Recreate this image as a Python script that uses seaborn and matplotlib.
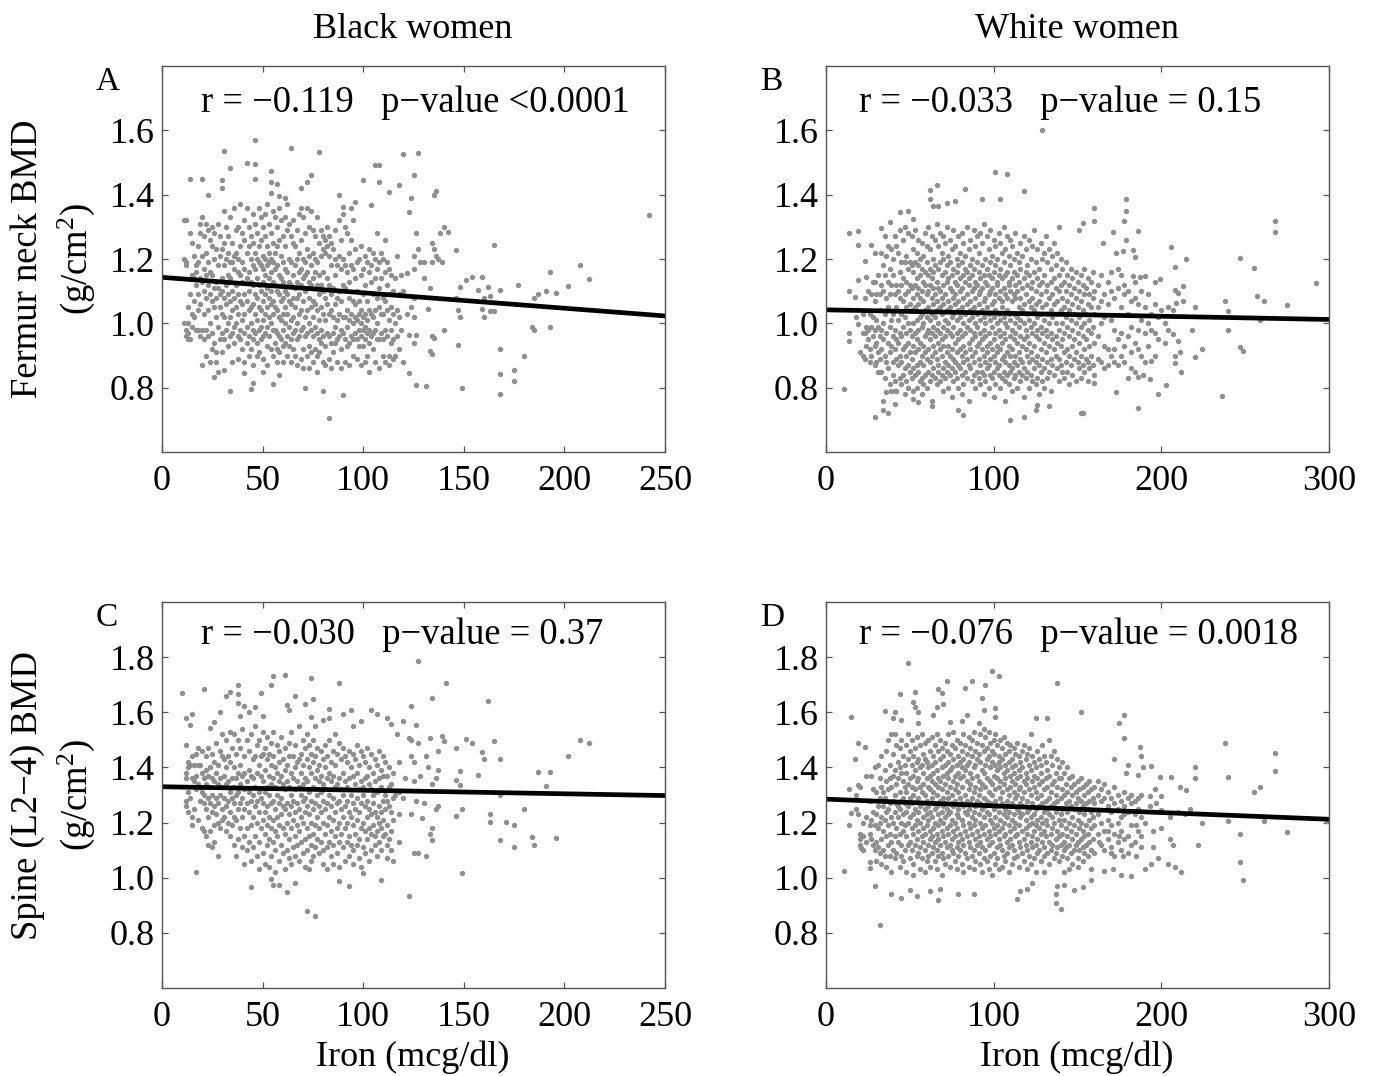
import matplotlib
matplotlib.use("Agg")
import matplotlib.pyplot as plt
import pandas as pd
import seaborn as sns

sns.set_style("white")
plt.rcParams['font.family'] = ['Liberation Serif', 'DejaVu Sans']
plt.rcParams['text.color'] = 'black'
plt.rcParams['mathtext.fontset'] = 'custom'
plt.rcParams['mathtext.rm'] = 'Liberation Serif'
plt.rcParams['mathtext.default'] = 'rm'

# Isolated points read one by one: (iron, BMD)
a_sparse = [(14,1.45),(20,1.45),(23,1.40),(31,1.537),(30,1.447),(30,1.42),(34,1.484),(42,1.50),(46,1.569),(46,1.496),(46,1.45),(54,1.474),(54,1.438),(57,1.433),(54,1.406),(58,1.397),(61,1.389),(64,1.544),(78,1.532),(74,1.462),(72,1.44),(69,1.42),(88,1.40),(100,1.446),(106,1.492),(108,1.492),(108,1.44),(113,1.407),(118,1.43),(120,1.525),(127,1.53),(125,1.462),(124,1.39),(123,1.346),(135,1.40),(136,1.41),(104,1.367),(96,1.378),(94,1.36),(90,1.363),(242,1.338),(165,1.245),(146,1.228),(208,1.18),(193,1.16),(212,1.137),(202,1.116),(196,1.094),(191,1.10),(187,1.09),(185,1.078),(177,1.12),(168,1.105),(162,1.114),(157,1.105),(159,1.143),(154,1.143),(151,1.136),(148,1.114),(146,1.08),(163,1.086),(160,1.079),(159,1.045),(160,1.02),(163,1.037),(165,1.037),(148,1.02),(147,1.04),(184,0.99),(185,0.98),(193,0.99),(140,0.98),(147,0.934),(168,0.92),(180,0.90),(168,0.843),(175,0.855),(175,0.82),(168,0.78),(149,0.80),(131,0.806),(126,0.808),(123,0.846),(83,0.707),(90,0.777),(80,0.79),(71,0.80),(55,0.81),(44,0.796),(45,0.815),(34,0.79),(26,0.834),(28,0.848),(31,0.856),(41,0.845),(50,0.85),(58,0.84),
 (140,1.30),(142,1.285),(138,1.28),(126,1.28),(127,1.23),(125,1.21),(134,1.25),(135,1.23),(136,1.21),(137,1.20),(139,1.19),(134,1.19),(130,1.19),(128,1.19),(125,1.17),(122,1.155),(130,1.14),(133,1.11),(125,1.08),(120,1.10),(124,1.05),(122,1.03),(125,1.02),(132,1.045),(134,0.96),(135,0.955),(133,0.915),(134,0.905),(123,0.965),(126,0.965),(125,0.94),(120,0.88)]
a_core = {
 11:[1.32,1.20,1.0],12:[1.32,1.19,1.18,0.98,0.96],13:[1.05,0.97,1.0,0.95],14:[1.28,1.09,0.95],15:[1.25,1.15,1.03,0.99],16:[1.21,1.14,1.07,1.02],17:[1.18,1.16,1.12,0.98],18:[1.24,1.19,1.09,1.04,0.98],19:[1.31,1.28,1.14,1.06,0.96],20:[1.33,1.21,1.13,0.98,0.87],21:[1.27,1.17,1.10,1.03,0.95],22:[1.31,1.22,1.15,1.08,0.98,0.90],23:[1.29,1.19,1.12,1.04,0.96],24:[1.26,1.16,1.09,1.0,0.88],25:[1.30,1.24,1.15,1.07,0.97,0.92],26:[1.28,1.20,1.11,1.05,0.94],27:[1.23,1.13,1.08,1.02,0.88,0.91],28:[1.31,1.18,1.11,0.99],29:[1.27,1.21,1.09,1.05,0.95],30:[1.23,1.14,1.10,1.03,0.97,0.91],
 31:[1.35,1.25,1.18,1.08,1.02,0.95],32:[1.30,1.20,1.12,1.06,0.98],33:[1.27,1.22,1.15,1.09,1.0,0.93],34:[1.33,1.19,1.14,1.07,1.02,0.96],35:[1.25,1.19,1.10,1.04,0.97,0.88],36:[1.36,1.21,1.17,1.08,0.99,0.94],37:[1.29,1.22,1.12,1.05,1.0],38:[1.30,1.20,1.16,1.09,1.03,0.96,0.89],39:[1.37,1.24,1.15,1.07,0.98,0.95],40:[1.28,1.19,1.13,1.06,1.01,0.92],41:[1.32,1.26,1.17,1.09,1.03,0.97,0.88],42:[1.36,1.22,1.14,1.07,0.99,0.94],43:[1.30,1.24,1.16,1.10,1.04,0.96,0.90],44:[1.27,1.20,1.13,1.05,1.0,0.92],45:[1.34,1.25,1.18,1.12,1.06,0.98,0.95,0.87],46:[1.31,1.22,1.17,1.09,1.03,0.97],47:[1.28,1.20,1.14,1.08,1.01,0.94,0.90],48:[1.36,1.24,1.19,1.12,1.05,0.98,0.91],49:[1.33,1.26,1.18,1.10,1.04,0.99,0.95],50:[1.30,1.21,1.17,1.13,1.07,1.01,0.96,0.89],
 51:[1.34,1.27,1.20,1.15,1.09,1.03,0.97],52:[1.37,1.24,1.18,1.11,1.05,0.99,0.93,0.87],53:[1.31,1.22,1.19,1.14,1.08,1.02,0.96],54:[1.28,1.20,1.16,1.10,1.06,1.0,0.92],55:[1.35,1.25,1.19,1.13,1.07,1.03,0.98,0.90],56:[1.33,1.22,1.17,1.12,1.05,0.98,0.94],57:[1.30,1.24,1.18,1.10,1.04,0.97,0.92,0.88],58:[1.36,1.26,1.15,1.09,1.02,0.96,0.91],59:[1.32,1.21,1.14,1.07,1.01,0.95],60:[1.27,1.19,1.13,1.08,1.03,0.98,0.93,0.88],
 61:[1.33,1.24,1.17,1.10,1.05,1.0,0.94],62:[1.37,1.29,1.16,1.09,1.03,0.96,0.90],63:[1.31,1.20,1.13,1.07,0.99,0.93],64:[1.27,1.19,1.12,1.06,1.01,0.95,0.88],65:[1.32,1.25,1.15,1.08,1.02,0.97,0.92],66:[1.24,1.18,1.11,1.05,0.98,0.90],67:[1.29,1.20,1.13,1.08,1.0,0.95,0.87],68:[1.34,1.22,1.16,1.09,1.03,0.96],69:[1.36,1.26,1.17,1.12,1.04,0.98,0.89],70:[1.33,1.20,1.14,1.07,0.99,0.92,0.86],
 71:[1.28,1.19,1.15,1.10,1.02,0.96],72:[1.36,1.23,1.16,1.11,1.04,0.97,0.90],73:[1.30,1.21,1.13,1.08,1.0,0.93,0.86],74:[1.35,1.18,1.12,1.05,0.98,0.91],75:[1.29,1.22,1.14,1.07,1.02,0.96,0.88],76:[1.27,1.20,1.16,1.06,0.99,0.92],77:[1.33,1.19,1.12,1.04,0.97,0.90,0.85],78:[1.25,1.15,1.09,1.01,0.95,0.91],79:[1.29,1.21,1.12,1.05,0.98,0.94],80:[1.27,1.23,1.16,1.10,1.03,0.96,0.88],
 81:[1.26,1.22,1.08,1.01,0.93,0.87],82:[1.30,1.24,1.14,1.06,0.97],83:[1.27,1.21,1.12,1.03,0.96,0.89],84:[1.25,1.18,1.09,1.04,0.94,0.86],85:[1.23,1.11,1.02,0.97,0.91],86:[1.29,1.20,1.15,1.06,0.99,0.94],87:[1.18,1.08,1.01,0.95,0.88],88:[1.32,1.21,1.10,1.03,0.96],89:[1.26,1.17,1.07,0.98,0.92,0.86],90:[1.34,1.20,1.12,1.02,0.97],
 91:[1.30,1.18,1.11,1.02,0.95,0.88],92:[1.28,1.16,1.04,0.99,0.93],93:[1.22,1.13,1.08,1.01,0.94,0.87],94:[1.26,1.18,1.03,0.96],95:[1.32,1.17,1.07,1.0,0.95,0.90],96:[1.23,1.14,1.06,1.02,0.97],97:[1.19,1.10,1.01,0.95,0.89],98:[1.20,1.07,1.03,0.98,0.93],99:[1.24,1.15,1.04,1.0,0.96,0.87],100:[1.17,1.09,1.02,0.98,0.93],
 101:[1.21,1.12,1.03,0.99,0.95,0.88],102:[1.19,1.07,1.01,0.97,0.90],103:[1.23,1.16,1.04,0.98,0.94,0.85],104:[1.18,1.13,1.03,0.96],105:[1.22,1.09,1.02,0.97,0.92],106:[1.20,1.14,1.04,0.98,0.88],107:[1.28,1.17,1.08,1.0,0.95],108:[1.19,1.11,1.05,0.95,0.86],109:[1.22,1.14,1.03,0.97],110:[1.20,1.08,1.03,0.95,0.90],
 111:[1.26,1.16,1.07,0.98,0.88],112:[1.19,1.12,1.04,0.96],113:[1.17,1.09,1.01,0.90,0.87],114:[1.15,1.05,0.98,0.94],115:[1.10,1.03,0.95,0.89],116:[1.14,1.0,0.90],117:[1.21,1.04,0.96],118:[1.09,1.02,0.92],119:[1.15,0.98]}

b_sparse = [(129,1.60),(101,1.47),(108,1.465),(118,1.41),(66,1.43),(62,1.416),(62,1.387),(83,1.417),(93,1.387),(104,1.388),(77,1.38),(64,1.365),(67,1.366),(72,1.373),(49,1.35),(44,1.347),(52,1.325),(38,1.316),(33,1.297),(14,1.28),(19,1.286),(19,1.245),(27,1.243),(29,1.22),(23,1.194),(19,1.135),(24,1.143),(29,1.127),(14,1.10),(17,1.083),(18,1.02),(19,0.998),(14,0.97),(14,0.944),(20,0.91),(11,0.796),(29,0.71),(34,0.73),(37,0.72),(34,0.757),(36,0.788),(41,0.79),(41,0.75),(52,0.765),(55,0.755),(63,0.742),(79,0.73),(82,0.716),(110,0.70),(118,0.71),(125,0.73),(126,0.747),(133,0.743),(152,0.72),(153,0.722),(186,0.737),(198,0.78),(203,0.807),(236,0.774),(173,0.786),(160,0.815),(160,1.357),(160,1.317),(179,1.385),(179,1.348),(178,1.318),(186,1.288),(171,1.285),(153,1.313),(151,1.29),(139,1.298),(179,1.26),(165,1.25),(183,1.228),(184,1.207),(177,1.224),(173,1.22),(206,1.236),(215,1.20),(208,1.176),(247,1.204),(255,1.172),(268,1.317),(268,1.285),(292,1.124),(257,1.086),(261,1.07),(275,1.056),(238,1.07),(240,1.037),(259,1.01),(240,0.978),(247,0.925),(249,0.915),(224,0.92),(220,0.894),(218,0.978),(220,1.05),(213,1.117),(213,1.07),(208,1.104),(210,1.094),(209,1.064),(207,1.04),(200,1.04),(199,1.138),(196,1.13),(190,1.148),(187,1.143),(183,1.147),(207,0.967),(210,0.946),(211,0.91),(208,0.90),(208,0.876),(212,0.85),(193,0.827),(189,0.84),(186,0.834),(194,0.882)]
b_core = {
 22:[1.03,0.97,0.90],23:[1.08,0.97,0.89],24:[0.99,0.93],25:[1.10,0.98,0.95],26:[1.03,0.92,0.88],27:[1.09,0.99,0.90],28:[1.13,1.02,0.96],29:[1.07,0.98,0.93,0.87],30:[1.09,1.01,0.94,0.88],31:[1.15,0.99,0.91,0.85],32:[1.09,1.04,0.96,0.89],33:[1.22,1.12,0.98,0.92,0.85],34:[1.18,1.10,1.0,0.95],35:[1.27,1.15,1.03,0.90,0.83],36:[1.21,1.08,0.97,0.88],37:[1.24,1.13,1.05,0.94,0.86],38:[1.17,1.09,0.99,0.91,0.81],39:[1.23,1.12,1.01,0.93,0.79],40:[1.20,1.15,1.03,0.96,0.88,0.84],
 41:[1.27,1.09,0.98,0.92,0.82],42:[1.24,1.12,1.05,0.95,0.89,0.79],43:[1.22,1.10,1.01,0.94,0.87],44:[1.29,1.16,1.08,0.97,0.90,0.83],45:[1.19,1.12,1.03,0.96,0.88,0.81],46:[1.26,1.14,1.07,0.99,0.92,0.84],47:[1.30,1.19,1.09,1.02,0.93,0.86,0.78],48:[1.21,1.13,1.05,0.97,0.90,0.82],49:[1.28,1.17,1.10,1.0,0.94,0.87,0.80],50:[1.19,1.12,1.06,0.98,0.91,0.85],
 51:[1.27,1.18,1.11,1.04,0.96,0.89,0.83],52:[1.23,1.16,1.08,1.0,0.93,0.86,0.79],53:[1.29,1.19,1.12,1.05,0.97,0.91,0.84],54:[1.22,1.14,1.09,1.01,0.95,0.87,0.80],55:[1.26,1.18,1.11,1.06,0.98,0.92,0.85],56:[1.20,1.15,1.08,1.02,0.94,0.88,0.82],57:[1.25,1.17,1.10,1.03,0.99,0.90,0.83,0.78],58:[1.21,1.13,1.07,1.0,0.93,0.87,0.81],59:[1.28,1.16,1.12,1.04,0.96,0.91,0.84],60:[1.24,1.19,1.09,1.02,0.97,0.89,0.80],
 61:[1.30,1.15,1.10,1.05,0.98,0.92,0.85],62:[1.23,1.17,1.12,1.01,0.95,0.88,0.82],63:[1.27,1.14,1.08,1.03,0.97,0.90,0.84,0.76],64:[1.20,1.16,1.11,1.06,0.99,0.93,0.86],65:[1.26,1.18,1.09,1.02,0.96,0.91,0.83],66:[1.31,1.13,1.07,1.04,0.98,0.89,0.81],67:[1.24,1.17,1.11,1.0,0.94,0.87,0.85],68:[1.28,1.19,1.10,1.05,0.97,0.92,0.82],69:[1.22,1.15,1.08,1.03,0.95,0.90,0.84],70:[1.27,1.20,1.12,1.06,0.99,0.93,0.86,0.79],
 71:[1.25,1.16,1.09,1.01,0.96,0.88,0.83],72:[1.30,1.18,1.13,1.04,0.98,0.91,0.85],73:[1.21,1.14,1.07,1.0,0.93,0.87,0.80],74:[1.26,1.19,1.11,1.05,0.97,0.90,0.84],75:[1.23,1.15,1.10,1.02,0.96,0.92,0.86,0.77],76:[1.29,1.17,1.08,1.03,0.99,0.89,0.82],77:[1.24,1.13,1.09,1.06,0.94,0.88,0.85],78:[1.20,1.16,1.12,1.01,0.97,0.91,0.83],79:[1.27,1.18,1.07,1.04,0.95,0.87,0.80],80:[1.22,1.14,1.10,1.02,0.98,0.92,0.86],
 81:[1.28,1.19,1.11,1.05,0.96,0.90,0.84,0.78],82:[1.25,1.15,1.08,1.0,0.93,0.88,0.81],83:[1.21,1.17,1.13,1.03,0.97,0.91,0.85],84:[1.30,1.16,1.09,1.06,0.99,0.89,0.83],85:[1.23,1.14,1.12,1.01,0.94,0.87,0.76],86:[1.26,1.18,1.07,1.04,0.98,0.92,0.86],87:[1.20,1.15,1.10,1.02,0.95,0.90,0.82],88:[1.29,1.17,1.11,1.05,0.97,0.88,0.84],89:[1.24,1.13,1.08,1.0,0.96,0.91,0.80],90:[1.27,1.19,1.12,1.03,0.99,0.93,0.85],
 91:[1.22,1.16,1.09,1.06,0.94,0.89,0.83],92:[1.28,1.14,1.10,1.01,0.97,0.87,0.81],93:[1.25,1.18,1.11,1.04,0.95,0.92,0.85],94:[1.31,1.15,1.07,1.02,0.98,0.90,0.84,0.78],95:[1.20,1.13,1.08,1.0,0.96,0.88,0.82],96:[1.27,1.17,1.12,1.05,0.93,0.91,0.86],97:[1.23,1.15,1.09,1.03,0.97,0.87,0.80],98:[1.29,1.19,1.10,1.01,0.94,0.89,0.84],99:[1.21,1.14,1.11,1.06,0.99,0.92,0.83],100:[1.26,1.16,1.07,1.02,0.95,0.90,0.85,0.77],
 101:[1.24,1.18,1.09,1.04,0.97,0.88,0.81],102:[1.20,1.13,1.12,1.0,0.93,0.91,0.86],103:[1.28,1.15,1.08,1.03,0.98,0.87,0.84],104:[1.25,1.17,1.10,1.01,0.96,0.92,0.80],105:[1.22,1.14,1.07,1.05,0.94,0.89,0.83],106:[1.30,1.19,1.11,1.02,0.97,0.90,0.85],107:[1.23,1.15,1.09,1.0,0.95,0.88,0.82,0.76],108:[1.27,1.16,1.08,1.04,0.99,0.91,0.84],109:[1.21,1.13,1.12,1.03,0.93,0.87,0.81],110:[1.26,1.18,1.10,1.01,0.96,0.90,0.85],
 111:[1.24,1.14,1.07,0.98,0.92,0.86,0.79],112:[1.20,1.16,1.09,1.03,0.95,0.88,0.83],113:[1.28,1.12,1.08,1.0,0.97,0.90,0.84],114:[1.22,1.15,1.10,1.02,0.94,0.87,0.80],115:[1.19,1.13,1.05,0.99,0.91,0.85],116:[1.25,1.17,1.08,1.01,0.96,0.89,0.82],117:[1.21,1.11,1.04,0.93,0.88,0.84],118:[1.27,1.14,1.06,1.0,0.95,0.86,0.77],119:[1.23,1.16,1.09,0.98,0.92,0.83],120:[1.18,1.12,1.03,0.96,0.90,0.85],
 121:[1.26,1.15,1.07,1.01,0.94,0.88,0.80],122:[1.20,1.11,1.05,0.99,0.91,0.84],123:[1.24,1.13,1.08,0.97,0.89,0.82],124:[1.29,1.16,1.04,1.0,0.93,0.86],125:[1.19,1.10,1.06,0.96,0.88,0.81],126:[1.23,1.14,1.02,0.98,0.90,0.83],127:[1.17,1.12,1.07,0.95,0.87,0.78],128:[1.25,1.09,1.03,0.99,0.92,0.85],129:[1.20,1.13,1.05,0.97,0.89,0.82],130:[1.22,1.15,1.01,0.94,0.86,0.80],
 131:[1.27,1.10,1.06,0.98,0.91],132:[1.19,1.12,1.03,0.96,0.88,0.83],133:[1.23,1.08,1.0,0.93,0.85],134:[1.17,1.13,1.04,0.97,0.89,0.79],135:[1.21,1.09,1.02,0.95,0.87],136:[1.25,1.14,1.06,0.92,0.84],137:[1.18,1.11,1.0,0.96,0.90],138:[1.22,1.07,1.03,0.94,0.86],139:[1.15,1.10,0.98,0.89,0.82],140:[1.20,1.12,1.04,0.93,0.87],
 141:[1.17,1.08,1.0,0.95,0.85],142:[1.13,1.05,0.97,0.91,0.83],143:[1.19,1.10,1.02,0.88],144:[1.15,1.07,0.99,0.92,0.85],145:[1.12,1.04,0.96,0.90,0.81],146:[1.17,1.09,1.01,0.87],147:[1.14,1.06,0.98,0.93,0.84],148:[1.11,1.03,0.95,0.89],149:[1.16,1.08,1.0,0.91,0.82],150:[1.13,1.05,0.97,0.88],
 151:[1.10,1.02,0.94,0.86],152:[1.15,1.07,0.99,0.90,0.83],153:[1.12,1.04,0.96,0.87],154:[1.17,1.09,1.0,0.92,0.85],155:[1.11,1.03,0.95,0.89],156:[1.14,1.06,0.98,0.88,0.82],157:[1.09,1.01,0.93,0.86],158:[1.13,1.05,0.97,0.90],159:[1.16,1.08,0.99,0.87],160:[1.10,1.03,0.94,0.84],
 162:[1.12,1.05,0.96,0.89],164:[1.15,1.07,1.0,0.88],166:[1.09,1.02,0.93,0.86],168:[1.13,1.06,0.92,0.87],170:[1.16,1.10,1.01,0.90],172:[1.08,0.98,0.92,0.88],174:[1.17,1.11,0.95,0.87],176:[1.15,1.05,0.97,0.90],178:[1.12,1.09,0.93,0.88],180:[1.10,1.03,0.96,0.83],182:[1.07,0.99,0.91,0.86],184:[1.13,1.08,0.94,0.85],186:[1.06,0.98,0.92],188:[1.10,1.01,0.90],190:[1.05,0.97,0.88],192:[1.09,1.0,0.93],194:[1.03,0.98],196:[1.06,0.97,0.90],198:[1.02,0.95],202:[1.0,0.94],204:[1.05,0.98]}

c_sparse = [(10,1.67),(21,1.683),(32,1.66),(34,1.672),(38,1.666),(38,1.70),(49,1.67),(54,1.70),(55,1.73),(61,1.735),(74,1.724),(88,1.707),(127,1.787),(141,1.707),(134,1.653),(124,1.623),(162,1.642),(66,1.66),(75,1.647),(71,1.63),(62,1.625),(63,1.607),(83,1.613),(94,1.61),(104,1.61),(107,1.594),(90,1.592),(112,1.58),(120,1.57),(114,1.556),(126,1.553),(99,1.57),(95,1.55),(83,1.58),(80,1.573),(74,1.583),(15,1.594),(12,1.58),(14,1.555),(29,1.60),(26,1.565),(24,1.544),(38,1.635),(41,1.623),(46,1.618),(43,1.60),(39,1.586),(50,1.586),(117,1.52),(123,1.507),(133,1.508),(139,1.513),(140,1.495),(151,1.504),(154,1.487),(165,1.497),(146,1.472),(159,1.456),(160,1.43),(168,1.43),(208,1.50),(212,1.49),(202,1.44),(187,1.382),(193,1.385),(191,1.334),(168,1.30),(180,1.25),(163,1.23),(163,1.202),(171,1.202),(175,1.193),(196,1.143),(184,1.148),(185,1.12),(168,1.138),(175,1.11),(149,1.017),(123,0.934),(72,0.88),(76,0.86),(17,1.02),(44,0.968),(62,0.949),(66,0.98),(55,0.975),(58,0.975),(54,0.996),(88,0.987),(93,0.97),(109,0.99),(100,1.016),(157,1.373),(148,1.387),(146,1.353),(148,1.337),(149,1.25),(146,1.224),
 (124,1.50),(127,1.49),(131,1.44),(137,1.46),(124,1.44),(125,1.42),(132,1.40),(137,1.39),(118,1.42),(121,1.36),(128,1.37),(136,1.36),(134,1.34),(125,1.35),(116,1.30),(120,1.29),(126,1.28),(130,1.27),(136,1.25),(137,1.26),(124,1.23),(129,1.215),(134,1.18),(133,1.16),(134,1.135),(125,1.09),(127,1.09),(131,1.08)]
c_core = {
 12:[1.48,1.38,1.36,1.28,1.26],13:[1.42,1.40,1.31,1.24],14:[1.41,1.29],15:[1.44,1.36,1.22,1.19],16:[1.41,1.35,1.25],17:[1.45,1.37,1.32],18:[1.47,1.41,1.34,1.21],19:[1.41,1.33,1.28],20:[1.46,1.38,1.31,1.18],21:[1.36,1.30,1.27,1.17],22:[1.44,1.39,1.34,1.25,1.15],23:[1.47,1.37,1.29,1.22,1.12],24:[1.40,1.33,1.27,1.17],25:[1.45,1.36,1.30,1.24,1.11],26:[1.42,1.35,1.26,1.19,1.13],27:[1.49,1.38,1.29,1.23],28:[1.41,1.34,1.27,1.20,1.08],29:[1.46,1.36,1.30,1.18],30:[1.52,1.44,1.33,1.25,1.21],
 31:[1.43,1.37,1.29,1.22],32:[1.50,1.40,1.34,1.26,1.17],33:[1.44,1.35,1.28,1.20],34:[1.53,1.42,1.31,1.24,1.15],35:[1.47,1.36,1.29,1.19],36:[1.52,1.40,1.33,1.27,1.22,1.12],37:[1.45,1.36,1.30,1.21,1.08],38:[1.50,1.38,1.31,1.25,1.14],39:[1.47,1.41,1.34,1.27,1.18],40:[1.54,1.37,1.29,1.22,1.11],41:[1.44,1.38,1.32,1.25,1.15,1.05],42:[1.50,1.35,1.27,1.18,1.10],43:[1.46,1.39,1.31,1.24,1.13],44:[1.52,1.37,1.28,1.19,1.06],45:[1.43,1.36,1.30,1.22,1.11],46:[1.55,1.44,1.33,1.26,1.15],47:[1.48,1.38,1.28,1.20,1.08],48:[1.50,1.41,1.31,1.24,1.13,1.03],49:[1.44,1.37,1.29,1.18],50:[1.53,1.45,1.35,1.27,1.21,1.09],
 51:[1.47,1.39,1.31,1.24,1.16,1.05],52:[1.51,1.43,1.33,1.26,1.19,1.12],53:[1.45,1.37,1.30,1.22,1.14,1.04],54:[1.49,1.41,1.34,1.27,1.18,1.08],55:[1.53,1.44,1.36,1.28,1.21,1.13],56:[1.40,1.33,1.25,1.17,1.10,1.02],57:[1.48,1.38,1.30,1.22,1.15],58:[1.46,1.42,1.35,1.27,1.19,1.06],59:[1.51,1.37,1.29,1.23,1.12],60:[1.43,1.34,1.26,1.18,1.09],
 61:[1.47,1.39,1.32,1.25,1.16,1.03],62:[1.41,1.35,1.27,1.20,1.10],63:[1.49,1.44,1.33,1.23,1.14,1.07],64:[1.53,1.38,1.30,1.26,1.18,1.05],65:[1.44,1.36,1.28,1.21,1.11],66:[1.48,1.40,1.32,1.24,1.15,1.08],67:[1.42,1.35,1.27,1.19,1.12],68:[1.55,1.43,1.33,1.25,1.17,1.06],69:[1.45,1.38,1.30,1.22,1.13],70:[1.50,1.41,1.34,1.28,1.20,1.09],
 71:[1.47,1.36,1.29,1.24,1.14,1.04],72:[1.52,1.43,1.35,1.26,1.18,1.10],73:[1.48,1.40,1.31,1.23,1.15,1.03],74:[1.45,1.38,1.28,1.20,1.12,1.06],75:[1.50,1.42,1.33,1.25,1.16,1.08],76:[1.55,1.44,1.36,1.27,1.19,1.11],77:[1.47,1.39,1.30,1.22,1.14],78:[1.41,1.35,1.26,1.18,1.09],79:[1.46,1.37,1.31,1.24,1.13],80:[1.43,1.34,1.28,1.20,1.10,1.05],
 81:[1.48,1.40,1.32,1.25,1.16],82:[1.44,1.36,1.27,1.19,1.11,1.03],83:[1.50,1.38,1.30,1.22,1.13],84:[1.42,1.35,1.26,1.17,1.08],85:[1.46,1.37,1.29,1.21,1.12,1.05],86:[1.52,1.41,1.33,1.24,1.15],87:[1.45,1.34,1.27,1.18,1.09],88:[1.49,1.36,1.28,1.20,1.13,1.04],89:[1.43,1.32,1.25,1.16],90:[1.47,1.38,1.30,1.22,1.11],
 91:[1.44,1.35,1.26,1.18,1.06],92:[1.42,1.33,1.28,1.20,1.13],93:[1.46,1.36,1.24,1.15,1.08],94:[1.40,1.30,1.22,1.12],95:[1.45,1.37,1.27,1.19,1.10,1.05],96:[1.43,1.34,1.25,1.16],97:[1.48,1.38,1.29,1.21,1.12],98:[1.41,1.32,1.24,1.14,1.07],99:[1.46,1.35,1.27,1.18,1.04],100:[1.44,1.33,1.30,1.20,1.11],
 101:[1.42,1.36,1.26,1.17,1.09],102:[1.47,1.37,1.28,1.22,1.14],103:[1.40,1.34,1.25,1.18,1.06],104:[1.45,1.32,1.23,1.16,1.10],105:[1.38,1.30,1.27,1.19],106:[1.43,1.35,1.24,1.15,1.12],107:[1.41,1.31,1.22,1.17,1.08],108:[1.46,1.36,1.26,1.20,1.13],109:[1.39,1.33,1.24,1.18,1.10],110:[1.44,1.37,1.28,1.21,1.15],
 111:[1.42,1.30,1.25,1.16],112:[1.37,1.28,1.19,1.12,1.07],113:[1.40,1.33,1.26,1.14],114:[1.34,1.24,1.17,1.10],115:[1.38,1.29,1.21,1.06],118:[1.31,1.23,1.13]}

d_sparse = [(49,1.78),(99,1.75),(103,1.73),(138,1.708),(87,1.712),(95,1.70),(72,1.712),(83,1.687),(67,1.683),(69,1.67),(53,1.673),(44,1.665),(93,1.65),(52,1.637),(53,1.62),(70,1.629),(66,1.62),(101,1.617),(94,1.607),(101,1.583),(35,1.603),(41,1.60),(40,1.58),(45,1.573),(55,1.60),(64,1.59),(55,1.56),(15,1.583),(74,1.566),(81,1.57),(84,1.59),(125,1.58),(132,1.58),(152,1.60),(178,1.59),(175,1.562),(178,1.508),(187,1.475),(188,1.44),(172,1.432),(180,1.41),(189,1.40),(194,1.404),(186,1.374),(179,1.378),(199,1.367),(206,1.367),(220,1.40),(220,1.363),(211,1.33),(215,1.317),(196,1.32),(193,1.295),(200,1.297),(238,1.49),(268,1.454),(268,1.386),(240,1.367),(259,1.33),(255,1.311),(224,1.20),(240,1.207),(261,1.206),(275,1.165),(247,1.16),(222,1.117),(247,1.057),(249,0.992),(299,1.206),(212,1.022),(208,1.04),(204,1.048),(198,1.072),(194,1.05),(190,1.03),(182,1.005),(176,1.01),(171,1.033),(166,1.024),(158,0.993),(153,0.965),(148,0.955),(142,0.973),(138,0.97),(137,0.94),(137,0.91),(140,0.885),(123,0.98),(120,0.96),(116,0.95),(114,0.923),(88,0.94),(79,0.942),(67,0.92),(68,0.958),(62,0.95),(54,0.933),(50,0.955),(45,0.925),(39,0.94),(29,0.97),(32,0.83),(11,1.024),(26,1.058),(26,1.037),(20,1.142),(21,1.108),(14,1.19),(15,1.234),(19,1.23),(14,1.32),(19,1.335),(17,1.43),(19,1.49),(23,1.475),
 (205,1.22),(210,1.24),(214,1.23),(217,1.25),(197,1.27),(193,1.26),(200,1.245),(190,1.20),(195,1.17),(200,1.18),(205,1.14),(207,1.12),(195,1.11),(185,1.19),(188,1.15),(182,1.12),(170,1.09),(177,1.08),(185,1.08),(175,1.15),(168,1.17),(163,1.13),(154,1.09),(150,1.04),(145,1.03),(158,1.03),(142,1.02),(130,1.02),(128,1.06),(125,1.02)]
d_core = {
 18:[1.30,1.25],20:[1.33,1.16,1.12],22:[1.20,1.10,1.15],24:[1.37,1.22,1.13],26:[1.28,1.19,1.16],27:[1.37,1.21,1.14],28:[1.32,1.24,1.12],29:[1.40,1.19,1.10],30:[1.31,1.23,1.13,1.06],31:[1.41,1.26,1.18,1.11],32:[1.36,1.29,1.20,1.09],33:[1.44,1.33,1.22,1.14,1.05],34:[1.31,1.26,1.17,1.10],35:[1.39,1.29,1.21,1.08],36:[1.46,1.35,1.24,1.15,1.04],37:[1.50,1.32,1.25,1.19,1.12],38:[1.41,1.36,1.27,1.16,1.08],39:[1.52,1.33,1.22,1.13,1.02],40:[1.45,1.37,1.28,1.20,1.10],
 41:[1.52,1.39,1.30,1.24,1.15,1.07],42:[1.48,1.34,1.27,1.18,1.09],43:[1.42,1.36,1.26,1.22,1.13],44:[1.47,1.40,1.31,1.25,1.16,1.04],45:[1.50,1.38,1.28,1.20,1.12,1.08],46:[1.44,1.35,1.29,1.23,1.17,1.06],47:[1.41,1.33,1.27,1.19,1.10],48:[1.48,1.38,1.31,1.24,1.15,1.02],49:[1.52,1.43,1.34,1.26,1.20,1.12],50:[1.46,1.36,1.29,1.22,1.13,1.07],
 51:[1.50,1.41,1.33,1.27,1.18,1.10],52:[1.44,1.37,1.30,1.23,1.16,1.05,1.01],53:[1.47,1.39,1.32,1.25,1.19,1.12],54:[1.51,1.42,1.35,1.28,1.21,1.14,1.08],55:[1.43,1.36,1.29,1.24,1.17,1.09],56:[1.48,1.40,1.33,1.26,1.20,1.11,1.03],57:[1.52,1.41,1.31,1.27,1.15,1.07],58:[1.45,1.38,1.34,1.22,1.18,1.13],59:[1.49,1.43,1.30,1.25,1.16,1.10,1.02],60:[1.42,1.36,1.28,1.23,1.19,1.06],
 61:[1.50,1.40,1.33,1.26,1.21,1.12,1.08],62:[1.46,1.37,1.32,1.24,1.17,1.14,1.04],63:[1.51,1.41,1.35,1.29,1.22,1.15,1.09],64:[1.44,1.38,1.31,1.27,1.18,1.11],65:[1.48,1.42,1.34,1.25,1.20,1.13,1.06],66:[1.52,1.39,1.30,1.26,1.16,1.10,1.03],67:[1.46,1.36,1.33,1.23,1.19,1.14,1.08],68:[1.50,1.43,1.35,1.28,1.21,1.12],69:[1.47,1.40,1.32,1.24,1.17,1.09,1.01],70:[1.44,1.37,1.29,1.26,1.20,1.15,1.07],
 71:[1.49,1.41,1.34,1.27,1.22,1.13,1.05],72:[1.46,1.38,1.31,1.25,1.18,1.11],73:[1.52,1.42,1.36,1.29,1.23,1.16,1.08],74:[1.45,1.39,1.33,1.24,1.19,1.12,1.04],75:[1.48,1.40,1.30,1.27,1.21,1.14,1.10],76:[1.53,1.43,1.35,1.26,1.17,1.09],77:[1.47,1.37,1.32,1.28,1.20,1.15,1.06],78:[1.50,1.41,1.34,1.23,1.18,1.11,1.03],79:[1.44,1.38,1.31,1.25,1.22,1.13,1.08],80:[1.49,1.42,1.36,1.29,1.16,1.10],
 81:[1.46,1.40,1.33,1.27,1.21,1.14,1.05],82:[1.52,1.43,1.37,1.26,1.19,1.12,1.02],83:[1.48,1.39,1.30,1.24,1.17,1.09],84:[1.45,1.41,1.35,1.28,1.23,1.15,1.07],85:[1.51,1.42,1.32,1.25,1.20,1.13,1.04],86:[1.47,1.38,1.34,1.27,1.18,1.11],87:[1.50,1.44,1.36,1.29,1.22,1.16,1.08],88:[1.53,1.40,1.31,1.24,1.19,1.10,1.03],89:[1.46,1.41,1.33,1.26,1.21,1.14,1.06],90:[1.49,1.43,1.37,1.28,1.17,1.12],
 91:[1.56,1.45,1.35,1.30,1.23,1.15,1.09],92:[1.52,1.42,1.32,1.27,1.20,1.13,1.05],93:[1.48,1.39,1.34,1.25,1.18,1.11,1.02],94:[1.54,1.46,1.38,1.29,1.22,1.16,1.07],95:[1.51,1.41,1.33,1.26,1.19,1.10],96:[1.47,1.43,1.36,1.28,1.24,1.14,1.06],97:[1.53,1.44,1.31,1.23,1.17,1.12,1.03],98:[1.49,1.40,1.35,1.27,1.21,1.15,1.08],99:[1.46,1.42,1.34,1.30,1.20,1.13,1.01],100:[1.50,1.45,1.37,1.25,1.18,1.09],
 101:[1.52,1.41,1.32,1.28,1.22,1.16,1.05],102:[1.48,1.39,1.36,1.26,1.19,1.11,1.07],103:[1.44,1.42,1.33,1.24,1.17,1.14,1.03],104:[1.50,1.40,1.35,1.29,1.21,1.12],105:[1.47,1.43,1.31,1.27,1.18,1.10,1.04],106:[1.51,1.38,1.34,1.23,1.20,1.15,1.08],107:[1.45,1.41,1.36,1.25,1.16,1.06],108:[1.49,1.39,1.32,1.28,1.22,1.13,1.09],109:[1.46,1.42,1.30,1.24,1.19,1.11,1.02],110:[1.48,1.37,1.33,1.26,1.17,1.14],
 111:[1.43,1.40,1.35,1.27,1.21,1.12,1.05],112:[1.47,1.38,1.31,1.23,1.18,1.10,1.07],113:[1.45,1.41,1.34,1.29,1.20,1.15],114:[1.49,1.36,1.30,1.25,1.16,1.08],115:[1.44,1.39,1.32,1.24,1.19,1.13,1.04],116:[1.42,1.37,1.33,1.27,1.22,1.11],117:[1.46,1.40,1.29,1.23,1.17,1.09],118:[1.48,1.35,1.31,1.26,1.14,1.06],119:[1.43,1.38,1.34,1.21,1.18,1.12],120:[1.45,1.36,1.28,1.24,1.16,1.10,1.03],
 121:[1.47,1.41,1.32,1.25,1.19,1.08],122:[1.52,1.39,1.30,1.22,1.13,1.05],123:[1.44,1.35,1.27,1.20,1.15,1.11],124:[1.42,1.37,1.33,1.23,1.17,1.07],125:[1.40,1.31,1.25,1.19,1.12],126:[1.46,1.36,1.29,1.21,1.14,1.09],127:[1.43,1.34,1.26,1.18,1.10],128:[1.41,1.38,1.30,1.22,1.16,1.06],129:[1.48,1.35,1.27,1.20,1.13],130:[1.44,1.32,1.24,1.17,1.11,1.08],
 131:[1.42,1.36,1.28,1.21,1.15],132:[1.39,1.33,1.25,1.19,1.09],133:[1.50,1.37,1.29,1.23,1.13,1.05],134:[1.44,1.31,1.26,1.16,1.10],135:[1.41,1.34,1.22,1.18,1.12],136:[1.46,1.35,1.27,1.20,1.07],137:[1.38,1.30,1.24,1.14,1.09],138:[1.43,1.33,1.28,1.17,1.11],139:[1.40,1.36,1.21,1.15,1.06],140:[1.36,1.29,1.23,1.19,1.12],
 141:[1.42,1.32,1.25,1.16,1.08],142:[1.38,1.30,1.21,1.13,1.10],143:[1.34,1.27,1.18,1.11],144:[1.40,1.31,1.24,1.15,1.07],145:[1.36,1.28,1.20,1.12],146:[1.33,1.26,1.17,1.09],147:[1.37,1.30,1.22,1.14,1.05],148:[1.34,1.25,1.19,1.10],149:[1.31,1.27,1.16,1.12],150:[1.35,1.29,1.21,1.13,1.07],
 151:[1.32,1.24,1.18,1.10],152:[1.36,1.28,1.20,1.14],153:[1.33,1.26,1.17,1.11,1.06],154:[1.30,1.23,1.15],155:[1.34,1.27,1.19,1.12],156:[1.31,1.25,1.16,1.08],157:[1.35,1.28,1.21,1.13],158:[1.32,1.24,1.18,1.10],159:[1.29,1.22,1.14],160:[1.33,1.27,1.19,1.09],
 162:[1.35,1.30,1.23,1.16],164:[1.32,1.28,1.20,1.12],166:[1.34,1.29,1.17,1.10],168:[1.31,1.26,1.21,1.14],170:[1.29,1.24,1.19,1.11],172:[1.33,1.27,1.16,1.08],174:[1.30,1.25,1.20,1.13],176:[1.28,1.22,1.17,1.10],178:[1.31,1.26,1.23,1.14],180:[1.29,1.24,1.15,1.09],182:[1.30,1.27,1.19],184:[1.28,1.23,1.13],186:[1.29,1.25,1.17],188:[1.30,1.22,1.11]}

line_x_a = [0, 250]; line_y_a = [1.143, 1.023]
line_x_b = [0, 300]; line_y_b = [1.042, 1.012]
line_x_c = [0, 250]; line_y_c = [1.330, 1.298]
line_x_d = [0, 300]; line_y_d = [1.285, 1.212]
notes = ["r = \u22120.119   p\u2212value <0.0001", "r = \u22120.033   p\u2212value = 0.15",
         "r = \u22120.030   p\u2212value = 0.37", "r = \u22120.076   p\u2212value = 0.0018"]
letters = ["A", "B", "C", "D"]
xticks_black = [0, 50, 100, 150, 200, 250]
xticks_white = [0, 100, 200, 300]
yticks_top = [0.8, 1.0, 1.2, 1.4, 1.6]
yticks_bottom = [0.8, 1.0, 1.2, 1.4, 1.6, 1.8]

def frame(sparse, core):
    rows = list(sparse) + [(x, y) for x, ys in core.items() for y in ys]
    return pd.DataFrame(rows, columns=['iron', 'bmd'])

W, H = 1374, 1076
fig = plt.figure(figsize=(W/100, H/100), dpi=100)
def mk(l, t, r, b):
    return fig.add_axes([l/W, 1-b/H, (r-l)/W, (b-t)/H])
axes = [mk(162,66,665,452), mk(826,66,1329,452), mk(162,602,665,988), mk(826,602,1329,988)]
panels = [(frame(a_sparse,a_core),line_x_a,line_y_a,250,(0.6,1.8),xticks_black,yticks_top),
          (frame(b_sparse,b_core),line_x_b,line_y_b,300,(0.6,1.8),xticks_white,yticks_top),
          (frame(c_sparse,c_core),line_x_c,line_y_c,250,(0.6,2.0),xticks_black,yticks_bottom),
          (frame(d_sparse,d_core),line_x_d,line_y_d,300,(0.6,2.0),xticks_white,yticks_bottom)]
GRAY = '#8f8f8f'
note_x = [0.0785, 0.065, 0.0785, 0.065]
note_y = [0.905, 0.905, 0.915, 0.915]
for i,(ax,(df,lx,ly,xm,yl,xt,yt)) in enumerate(zip(axes,panels)):
    sns.scatterplot(data=df, x='iron', y='bmd', ax=ax, color=GRAY, s=15, linewidth=0, legend=False)
    sns.lineplot(x=lx, y=ly, ax=ax, color='black', linewidth=3.4, errorbar=None)
    ax.set_xlim(0, xm); ax.set_ylim(*yl)
    ax.set_xticks(xt); ax.set_yticks(yt)
    ax.set_yticklabels([f"{v:.1f}" for v in yt])
    ax.tick_params(direction='in', length=4, width=0.9, color='#555555', top=True, right=True,
                   bottom=True, left=True, labelsize=26, labelcolor='black')
    ax.tick_params(axis='x', pad=9)
    ax.tick_params(axis='y', pad=5)
    for s in ax.spines.values():
        s.set_color('#555555'); s.set_linewidth(1.0); s.set_visible(True)
    ax.set_xlabel(''); ax.set_ylabel('')
    ax.text(note_x[i], note_y[i], notes[i], transform=ax.transAxes, fontsize=26.4, va='center')
    ax.text(-0.132, 0.96, letters[i], transform=ax.transAxes, fontsize=24, va='center')

def ft(px, py, s, **k):
    fig.text(px/W, 1-py/H, s, ha='center', va='center', **k)
ft(413, 29, "Black women", fontsize=26)
ft(1077, 29, "White women", fontsize=26)
ft(413, 1057, "Iron (mcg/dl)", fontsize=26)
ft(1077, 1057, "Iron (mcg/dl)", fontsize=26)
ft(54, 259, "Fermur neck BMD\n(g/cm$^{2}$)", fontsize=26.4, rotation=90, linespacing=1.35)
ft(54, 795, "Spine (L2\u22124) BMD\n(g/cm$^{2}$)", fontsize=26.4, rotation=90, linespacing=1.35)
fig.savefig("out.png", dpi=100)
